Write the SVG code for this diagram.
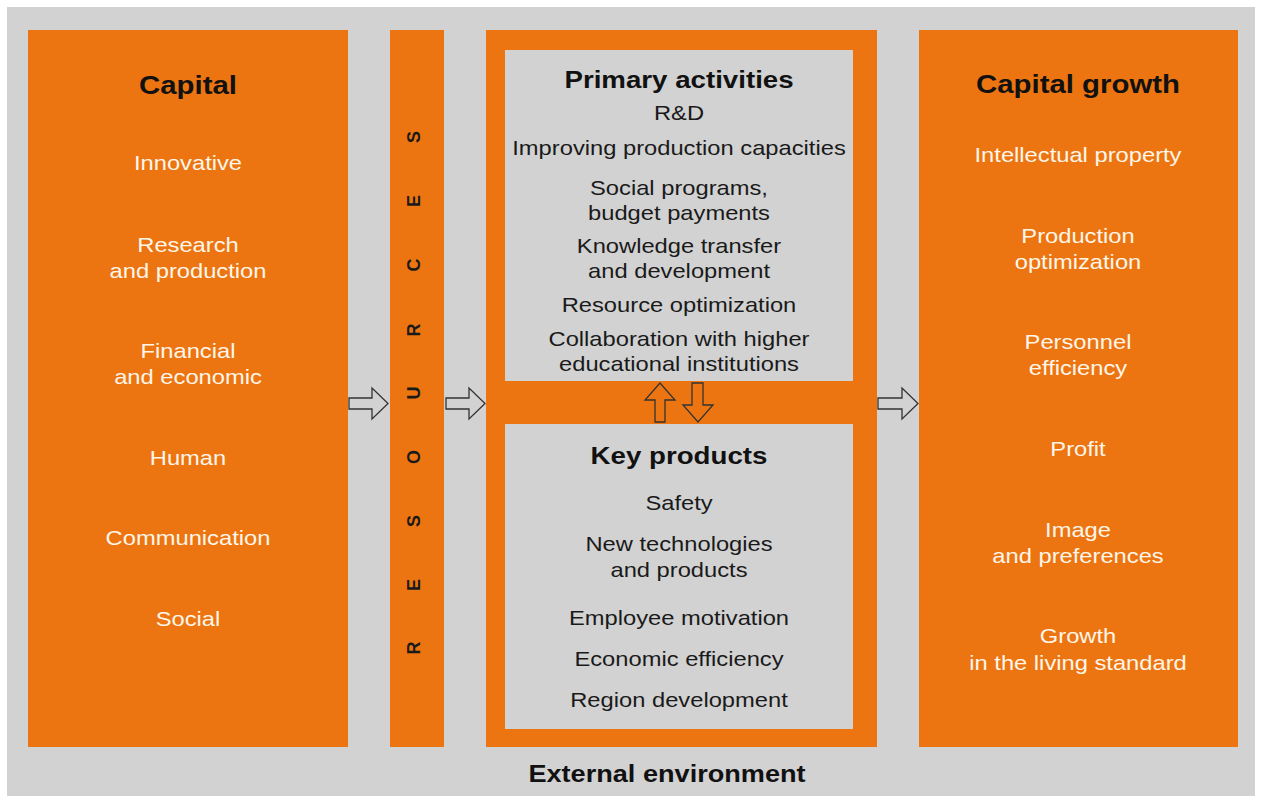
<svg xmlns="http://www.w3.org/2000/svg" width="1261" height="796" viewBox="0 0 1261 796">
<defs>
<style>
.bg{fill:#d2d2d2}
.or{fill:#ec7511}
.gbox{fill:#d2d2d2}
.t{font-family:"Liberation Sans",Arial,sans-serif;text-anchor:middle}
.h{font-size:26px;font-weight:bold;fill:#111}
.w{font-size:21px;fill:#fff6ea}
.d{font-size:21px;fill:#1a1a1a}
.res{font-size:18px;font-weight:bold;fill:#1a1a1a}
.arr{fill:#d2d2d2;stroke:#333;stroke-width:1.3}
.arro{fill:#ec7511;stroke:#333;stroke-width:1.3}
</style>
</defs>
<rect x="0" y="0" width="1261" height="796" fill="#ffffff"/>
<rect class="bg" x="7" y="7" width="1248" height="789"/>

<g id="capital">
<rect class="or" x="28" y="30" width="320" height="717"/>
<g transform="translate(188,0) scale(1.13,1)">
<text class="t h" x="0" y="94">Capital</text>
<text class="t w" x="0" y="170">Innovative</text>
<text class="t w" x="0" y="252">Research</text>
<text class="t w" x="0" y="278">and production</text>
<text class="t w" x="0" y="358">Financial</text>
<text class="t w" x="0" y="384">and economic</text>
<text class="t w" x="0" y="465">Human</text>
<text class="t w" x="0" y="545">Communication</text>
<text class="t w" x="0" y="626">Social</text>
</g>
</g>

<g id="resources">
<rect class="or" x="390" y="30" width="54" height="717"/>
<text class="t res" transform="translate(420,648) rotate(-90)">R</text>
<text class="t res" transform="translate(420,585) rotate(-90)">E</text>
<text class="t res" transform="translate(420,521) rotate(-90)">S</text>
<text class="t res" transform="translate(420,457) rotate(-90)">O</text>
<text class="t res" transform="translate(420,393) rotate(-90)">U</text>
<text class="t res" transform="translate(420,330) rotate(-90)">R</text>
<text class="t res" transform="translate(420,265) rotate(-90)">C</text>
<text class="t res" transform="translate(420,201) rotate(-90)">E</text>
<text class="t res" transform="translate(420,137) rotate(-90)">S</text>
</g>

<g id="center">
<rect class="or" x="486" y="30" width="391" height="717"/>
</g>

<g id="primary-activities">
<rect class="gbox" x="505" y="50" width="348" height="331"/>
<g transform="translate(679,0) scale(1.13,1)">
<text class="t h" x="0" y="88" style="font-size:24.5px">Primary activities</text>
<text class="t d" x="0" y="120">R&amp;D</text>
<text class="t d" x="0" y="155">Improving production capacities</text>
<text class="t d" x="0" y="195">Social programs,</text>
<text class="t d" x="0" y="220">budget payments</text>
<text class="t d" x="0" y="253">Knowledge transfer</text>
<text class="t d" x="0" y="278">and development</text>
<text class="t d" x="0" y="312">Resource optimization</text>
<text class="t d" x="0" y="346">Collaboration with higher</text>
<text class="t d" x="0" y="371">educational institutions</text>
</g>
</g>

<g id="key-products">
<rect class="gbox" x="505" y="424" width="348" height="305"/>
<g transform="translate(679,0) scale(1.13,1)">
<text class="t h" x="0" y="464" style="font-size:24.5px">Key products</text>
<text class="t d" x="0" y="510">Safety</text>
<text class="t d" x="0" y="551">New technologies</text>
<text class="t d" x="0" y="577">and products</text>
<text class="t d" x="0" y="625">Employee motivation</text>
<text class="t d" x="0" y="666">Economic efficiency</text>
<text class="t d" x="0" y="707">Region development</text>
</g>
</g>

<g id="capital-growth">
<rect class="or" x="919" y="30" width="319" height="717"/>
<g transform="translate(1078,0) scale(1.13,1)">
<text class="t h" x="0" y="93">Capital growth</text>
<text class="t w" x="0" y="162">Intellectual property</text>
<text class="t w" x="0" y="243">Production</text>
<text class="t w" x="0" y="269">optimization</text>
<text class="t w" x="0" y="349">Personnel</text>
<text class="t w" x="0" y="375">efficiency</text>
<text class="t w" x="0" y="456">Profit</text>
<text class="t w" x="0" y="537">Image</text>
<text class="t w" x="0" y="563">and preferences</text>
<text class="t w" x="0" y="643">Growth</text>
<text class="t w" x="0" y="670">in the living standard</text>
</g>
</g>

<g id="external-environment">
<g transform="translate(667,0) scale(1.13,1)">
<text class="t h" x="0" y="782" style="font-size:24px">External environment</text>
</g>
</g>

<g id="connectors">
<path class="arr" d="M349,398 H372 V388 L388,403.5 L372,419 V409 H349 Z"/>
<path class="arr" d="M446,398 H469 V388 L485,403.5 L469,419 V409 H446 Z"/>
<path class="arr" d="M878,398 H902 V388 L918,403.5 L902,419 V409 H878 Z"/>
<path class="arro" d="M655,422 V400 H645 L660,383 L675,400 H665 V422 Z"/>
<path class="arro" d="M692,383 V405 H683 L698,422 L713,405 H703 V383 Z"/>
</g>
</svg>
